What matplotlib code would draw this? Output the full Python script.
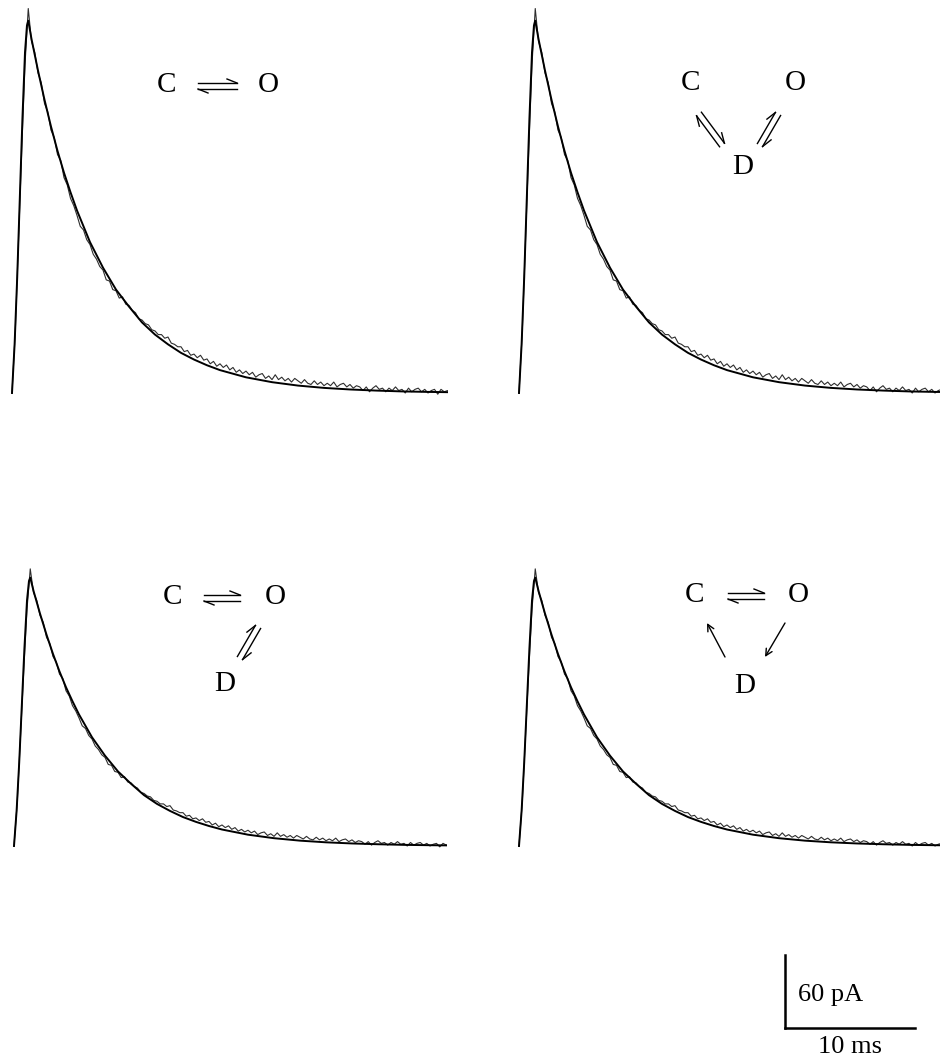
import numpy as np
import matplotlib.pyplot as plt

W, H = 943, 1058

# recorded current, one sample every 0.25 ms (pA)
dt_ms = 0.25
current_pA = [0, 50, 125, 200, 270, 316, 289, 280, 263, 255,
              238, 231, 216, 210, 196, 191, 177, 171, 160, 154,
              146, 137, 134, 126, 122, 114, 110, 104, 101, 93,
              92, 85, 84, 78, 79, 73, 72, 68, 66, 61,
              60, 57, 56, 52, 51, 48, 48, 45, 46, 41,
              40, 38, 38, 34, 35, 31, 32, 29, 31, 27,
              28, 24, 26, 22, 24, 21, 23, 19, 21, 17,
              19, 16, 18, 15, 17, 13, 15, 16, 12, 14,
              11, 15, 11, 13, 10, 12, 9, 12, 10, 8,
              11, 8, 7, 10, 7, 9, 6, 8, 6, 9,
              5, 7, 8, 5, 7, 4, 6, 5, 2, 5,
              1, 4, 6, 3, 4, 1, 4, 2, 5, 2,
              3, 0, 4, 1, 3, 4, 1, 3, 0, 2,
              3, -1, 3, 1, 2, 0, 1]

# model fit (ms, pA)
fit_t = [0, 0.2, 0.4, 0.6, 0.8, 1.0, 1.15, 1.25, 1.5, 2.0, 2.5, 3.0, 3.5,
         4.0, 4.5, 5.0, 5.5, 6.0, 7.0, 8.0, 9.0, 10.0, 11.0, 12.0, 13.0,
         14.0, 15.0, 16.0, 18.0, 20.0, 22.0, 24.0, 26.0, 28.0, 30.0, 32.0, 34.0]
fit_pA = [0, 40, 95, 160, 225, 280, 302, 306, 291, 265, 241, 219, 199,
          181, 165, 150, 137, 124, 103, 85, 71, 58, 48, 40, 33,
          27.5, 22.8, 18.8, 12.9, 8.9, 6.1, 4.2, 2.9, 2.0, 1.3, 0.9, 0.6]

scale_ms = 10
scale_pA = 60

fig = plt.figure(figsize=(W / 100, H / 100), dpi=100)

serif = ['Liberation Serif', 'DejaVu Serif']


def place(t0_px, base_px, sx, sy, t_end):
    # axes rect from pixel position of (0 ms, 0 pA) and pixel scales
    x0, x1 = -0.8, t_end
    y0, y1 = -8, 322
    left = t0_px + x0 * sx
    bottom = base_px - y0 * sy
    ax = fig.add_axes([left / W, (H - bottom) / H,
                       (x1 - x0) * sx / W, (y1 - y0) * sy / H])
    ax.set_xlim(x0, x1)
    ax.set_ylim(y0, y1)
    ax.axis('off')
    return ax


t = np.arange(len(current_pA)) * dt_ms
panels = [(12, 393, 13, 1.2167, 33.5),
          (519, 393, 13, 1.2167, 32.4),
          (14, 846, 13, 0.877, 33.3),
          (519, 846, 13, 0.877, 32.4)]
for p in panels:
    ax = place(*p)
    ax.plot(t, current_pA, color='#2e2e2e', lw=0.8)
    ax.plot(fit_t, fit_pA, color='black', lw=1.4)

# overlay in pixel coordinates for the kinetic schemes
ov = fig.add_axes([0, 0, 1, 1])
ov.set_xlim(0, W)
ov.set_ylim(H, 0)
ov.axis('off')
ov.patch.set_alpha(0)


def label(x, y, s):
    ov.text(x, y, s, family=serif, fontsize=21, ha='center', va='center')


def harpoons(x0, y0, x1, y1, gap=6, blen=10, bw=4):
    p0 = np.array([x0, y0], float)
    p1 = np.array([x1, y1], float)
    u = (p1 - p0) / np.linalg.norm(p1 - p0)
    n = np.array([u[1], -u[0]])
    a0, a1 = p0 + n * gap / 2, p1 + n * gap / 2
    b0, b1 = p0 - n * gap / 2, p1 - n * gap / 2
    kw = dict(color='black', lw=1.0)
    ov.plot([a0[0], a1[0]], [a0[1], a1[1]], **kw)
    tip = a1 - u * blen + n * bw
    ov.plot([a1[0], tip[0]], [a1[1], tip[1]], **kw)
    ov.plot([b0[0], b1[0]], [b0[1], b1[1]], **kw)
    tip = b0 + u * blen - n * bw
    ov.plot([b0[0], tip[0]], [b0[1], tip[1]], **kw)


def arrow(x0, y0, x1, y1):
    ov.annotate('', xy=(x1, y1), xytext=(x0, y0),
                arrowprops=dict(arrowstyle='->', color='black', lw=1.0,
                                mutation_scale=12, shrinkA=0, shrinkB=0))


# panel 1: C <-> O
label(167, 85, 'C')
label(268, 85, 'O')
harpoons(198, 86, 237, 86)

# panel 2: C <-> D <-> O
label(690, 83, 'C')
label(795, 83, 'O')
label(743, 167, 'D')
harpoons(699, 114, 722, 145)
harpoons(760, 145, 778, 114)

# panel 3: C <-> O <-> D
label(172, 597, 'C')
label(275, 597, 'O')
label(225, 684, 'D')
harpoons(204, 598, 240, 598)
harpoons(240, 658, 258, 627)

# panel 4: cyclic
label(695, 595, 'C')
label(798, 595, 'O')
label(745, 686, 'D')
harpoons(728, 596, 764, 596)
arrow(725, 657, 707, 623)
arrow(785, 623, 765, 657)

# scale bar
sb = fig.add_axes([785 / W, (H - 1028) / H, scale_ms * 13 / W, scale_pA * 1.2167 / H])
sb.set_xlim(0, scale_ms)
sb.set_ylim(0, scale_pA)
sb.axis('off')
sb.plot([0, 0], [0, scale_pA], color='black', lw=1.8, clip_on=False)
sb.plot([0, scale_ms], [0, 0], color='black', lw=1.8, clip_on=False)
sb.text(1.0, scale_pA * 0.45, '%d pA' % scale_pA, family=serif, fontsize=19,
        ha='left', va='center')
sb.text(scale_ms * 0.5, -16, '%d ms' % scale_ms, family=serif, fontsize=19,
        ha='center', va='center')

fig.savefig('out.png', dpi=100)
